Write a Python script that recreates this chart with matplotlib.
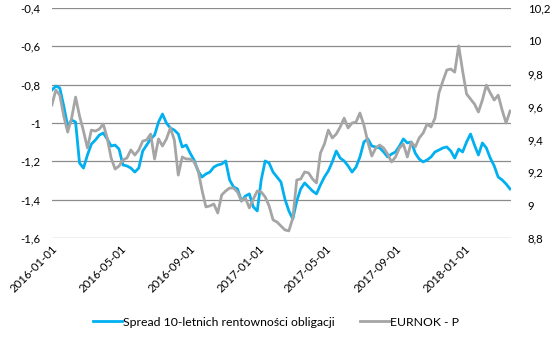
import matplotlib
matplotlib.use('Agg')
import matplotlib.pyplot as plt
import matplotlib.dates as mdates
import pandas as pd

plt.rcParams['font.family'] = ['Lato', 'DejaVu Sans']

# tygodniowe odczyty z wykresu
start = '2016-01-01'

spread = [-0.828, -0.807, -0.817, -0.911, -1.016, -0.984, -0.995, -1.209, -1.235, -1.167,
          -1.110, -1.089, -1.063, -1.052, -1.083, -1.120, -1.115, -1.136, -1.219, -1.224,
          -1.235, -1.256, -1.235, -1.146, -1.115, -1.083, -1.063, -0.995, -0.953, -1.000,
          -1.026, -1.037, -1.057, -1.125, -1.115, -1.157, -1.193, -1.250, -1.282, -1.266,
          -1.256, -1.230, -1.219, -1.214, -1.198, -1.297, -1.334, -1.344, -1.407, -1.381,
          -1.370, -1.438, -1.459, -1.297, -1.198, -1.209, -1.256, -1.282, -1.308, -1.397,
          -1.459, -1.501, -1.407, -1.344, -1.313, -1.334, -1.355, -1.370, -1.323, -1.282,
          -1.250, -1.203, -1.146, -1.183, -1.198, -1.224, -1.256, -1.230, -1.177, -1.099,
          -1.083, -1.120, -1.125, -1.130, -1.151, -1.177, -1.162, -1.151, -1.120, -1.083,
          -1.104, -1.099, -1.157, -1.188, -1.203, -1.193, -1.177, -1.151, -1.141, -1.130,
          -1.125, -1.146, -1.183, -1.136, -1.151, -1.099, -1.057, -1.115, -1.167, -1.104,
          -1.130, -1.183, -1.224, -1.282, -1.297, -1.318, -1.344]

eurnok = [9.610, 9.701, 9.670, 9.543, 9.445, 9.530, 9.658, 9.543, 9.451, 9.348,
          9.457, 9.451, 9.463, 9.494, 9.409, 9.287, 9.220, 9.238, 9.275, 9.287,
          9.336, 9.305, 9.336, 9.390, 9.397, 9.433, 9.281, 9.403, 9.360, 9.403,
          9.470, 9.397, 9.183, 9.293, 9.281, 9.281, 9.263, 9.214, 9.092, 8.989,
          8.995, 9.007, 8.952, 9.062, 9.086, 9.104, 9.104, 9.080, 9.025, 9.043,
          8.983, 9.037, 9.086, 9.080, 9.050, 8.995, 8.910, 8.897, 8.873, 8.849,
          8.843, 8.922, 9.153, 9.159, 9.202, 9.196, 9.159, 9.135, 9.317, 9.372,
          9.457, 9.409, 9.433, 9.476, 9.530, 9.470, 9.500, 9.506, 9.561, 9.488,
          9.384, 9.299, 9.348, 9.366, 9.348, 9.311, 9.263, 9.293, 9.348, 9.372,
          9.293, 9.384, 9.354, 9.409, 9.439, 9.494, 9.476, 9.530, 9.683, 9.756,
          9.823, 9.829, 9.810, 9.970, 9.817, 9.677, 9.646, 9.616, 9.567, 9.640,
          9.731, 9.683, 9.640, 9.670, 9.579, 9.500, 9.573]

dates = pd.date_range(start, periods=len(spread), freq='7D')

tick_dates = pd.date_range('2016-01-01', '2018-01-01', freq='4MS')
left_ticks = [-1.6, -1.4, -1.2, -1.0, -0.8, -0.6, -0.4]
right_ticks = [8.8, 9.0, 9.2, 9.4, 9.6, 9.8, 10.0, 10.2]


def fmt(v):
    s = ('%.1f' % v).replace('.', ',')
    return s[:-2] if s.endswith(',0') else s


fig = plt.figure(figsize=(5.52, 3.38), dpi=100)
ax = fig.add_axes([0.094, 0.296, 0.832, 0.680])
ax2 = ax.twinx()

ax.plot(dates, spread, color='#00B0F0', lw=2.0, label='Spread 10-letnich rentowności obligacji')
ax2.plot(dates, eurnok, color='#A5A5A5', lw=2.0, label='EURNOK - P')

ax.set_ylim(-1.6, -0.4)
ax.set_yticks(left_ticks)
ax.set_yticklabels([fmt(v) for v in left_ticks])
ax2.set_ylim(8.8, 10.2)
ax2.set_yticks(right_ticks)
ax2.set_yticklabels([fmt(v) for v in right_ticks])

ax.set_xlim(dates[0], dates[-1] + pd.Timedelta(days=2))
ax.set_xticks(tick_dates)
ax.xaxis.set_major_formatter(mdates.DateFormatter('%Y-%m-%d'))
plt.setp(ax.get_xticklabels(), rotation=45, ha='right', rotation_mode='anchor')

ax.grid(axis='y', color='#8c8c8c', lw=0.9)
ax.set_axisbelow(True)
for a in (ax, ax2):
    for sp in a.spines.values():
        sp.set_visible(False)
    a.tick_params(length=0, labelsize=8.2, colors='black')
ax.tick_params(axis='y', pad=8)
ax2.tick_params(axis='y', pad=12)
ax.tick_params(axis='x', pad=4)

h1, l1 = ax.get_legend_handles_labels()
h2, l2 = ax2.get_legend_handles_labels()
fig.legend(h1 + h2, l1 + l2, loc='center', bbox_to_anchor=(0.5, 0.047), ncol=2,
           frameon=False, fontsize=8.8, handlelength=2.4, handletextpad=0.1, columnspacing=2.0)

fig.savefig('out.png', dpi=100)
